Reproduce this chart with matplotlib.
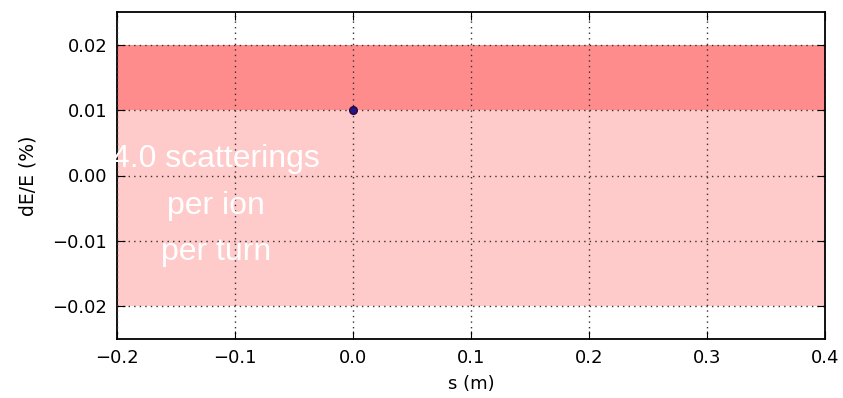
import matplotlib
matplotlib.use("Agg")
import matplotlib.pyplot as plt

# data
point_s = [0.0]
point_dE = [0.01]
band_outer = (-0.02, 0.02)
band_inner = (0.01, 0.02)
label_text = "4.0 scatterings\nper ion\nper turn"
label_pos = (-0.116, -0.0046)

fig = plt.figure(figsize=(8.43, 3.98), dpi=100)
ax = fig.add_axes([117/843, 1-339/398, (825-117)/843, (339-12)/398])

ax.axhspan(*band_outer, color="#ffcaca", lw=0, zorder=0)
ax.axhspan(*band_inner, color="#ff8c8c", lw=0, zorder=0)

ax.scatter(point_s, point_dE, s=30, c="#1a1a8c", edgecolors="#330033", zorder=5, lw=1)

ax.text(*label_pos, label_text, color="white", fontsize=23, ha="center", va="center",
        family=["Liberation Sans", "DejaVu Sans"], linespacing=1.7, zorder=6, clip_on=False)

ax.set_xlim(-0.2, 0.4)
ax.set_ylim(-0.025, 0.025)
ax.set_xticks([-0.2, -0.1, 0.0, 0.1, 0.2, 0.3, 0.4])
ax.set_yticks([-0.02, -0.01, 0.0, 0.01, 0.02])
ax.grid(True, color="#333333", linestyle=(0, (1, 3)), linewidth=1)
ax.set_axisbelow(False)
ax.tick_params(direction="in", top=True, right=True, length=6, labelsize=13, pad=7)
for sp in ax.spines.values():
    sp.set_linewidth(1.3)
ax.set_xlabel("s (m)", fontsize=13, labelpad=6)
ax.set_ylabel("dE/E (%)", fontsize=13.5, labelpad=11)

fig.savefig("out.png", dpi=100, facecolor="white")
